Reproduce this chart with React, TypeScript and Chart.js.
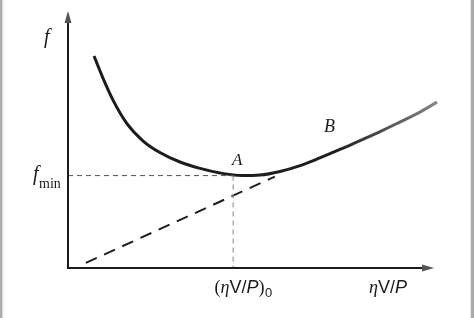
import React, { useEffect, useRef } from "react";
import { Chart, registerables } from "chart.js";

Chart.register(...registerables);

// Curve f(ηV/P) (arbitrary units, 0..10 on both axes)
const CURVE_X = [0.70, 0.94, 1.21, 1.59, 2.02, 2.47, 3.01, 3.55, 4.09, 4.68, 5.16, 5.70, 6.24, 6.77, 7.31, 7.85, 8.39, 8.92, 9.41, 9.92];
const CURVE_F = [8.28, 7.42, 6.56, 5.63, 4.96, 4.51, 4.14, 3.89, 3.71, 3.61, 3.63, 3.77, 4.00, 4.30, 4.63, 4.98, 5.33, 5.70, 6.05, 6.48];

// Dashed tangent line from near the origin
const TANGENT_X = [0.48, 5.56];
const TANGENT_F = [0.20, 3.57];

// f_min level and the optimum (ηV/P)_0
const F_MIN = 3.61;
const X_OPT = 4.44;

// Axis ranges
const X_MAX = 10;
const F_MAX = 10;
const X_ARROW_END = 9.84;
const F_ARROW_END = 10.04;

// Text
const Y_LABEL = "f";
const FMIN_MAIN = "f";
const FMIN_SUB = "min";
const POINT_A = "A";
const POINT_B = "B";
const X_LABEL = [
  { t: "η", f: "serif-it" },
  { t: "V", f: "sans" },
  { t: "/", f: "sans" },
  { t: "P", f: "sans-it" },
];
const X_OPT_SUB = "0";

const SERIF = '"Liberation Serif", "DejaVu Serif", serif';
const SANS = '"Liberation Sans", Arial, sans-serif';

function fontFor(kind: string, size: number) {
  if (kind === "serif-it") return `italic ${size}px ${SERIF}`;
  if (kind === "sans-it") return `italic ${size}px ${SANS}`;
  if (kind === "sans") return `${size}px ${SANS}`;
  return `${size}px ${SERIF}`;
}

function drawMixed(ctx: CanvasRenderingContext2D, parts: { t: string; f: string }[], x: number, y: number, size: number) {
  let cx = x;
  for (const p of parts) {
    ctx.font = fontFor(p.f, size);
    ctx.fillText(p.t, cx, y);
    cx += ctx.measureText(p.t).width;
  }
  return cx;
}

function measureMixed(ctx: CanvasRenderingContext2D, parts: { t: string; f: string }[], size: number) {
  let w = 0;
  for (const p of parts) {
    ctx.font = fontFor(p.f, size);
    w += ctx.measureText(p.t).width;
  }
  return w;
}

const decorPlugin = {
  id: "decor",
  beforeDraw(chart: any) {
    const ctx: CanvasRenderingContext2D = chart.ctx;
    ctx.save();
    ctx.fillStyle = "#ffffff";
    ctx.fillRect(0, 0, chart.width, chart.height);
    ctx.fillStyle = "#ababab";
    ctx.fillRect(0, 0, 2.5, chart.height);
    ctx.fillRect(chart.width - 3, 0, 3, chart.height);
    ctx.fillStyle = "#e6e6e6";
    ctx.fillRect(2.5, 0, 1, chart.height);
    ctx.fillRect(chart.width - 4, 0, 1, chart.height);
    ctx.restore();
  },
  afterDatasetsDraw(chart: any) {
    const ctx: CanvasRenderingContext2D = chart.ctx;
    const xs = chart.scales.x;
    const ys = chart.scales.y;
    const x0 = xs.getPixelForValue(0);
    const y0 = ys.getPixelForValue(0);
    const xEnd = xs.getPixelForValue(X_ARROW_END);
    const yEnd = ys.getPixelForValue(F_ARROW_END);
    ctx.save();
    // axes
    ctx.strokeStyle = "#1c1c1c";
    ctx.lineWidth = 2;
    ctx.beginPath();
    ctx.moveTo(x0, y0);
    ctx.lineTo(x0, yEnd + 8);
    ctx.moveTo(x0 - 1, y0);
    ctx.lineTo(xEnd - 8, y0);
    ctx.stroke();
    // arrowheads
    ctx.fillStyle = "#555";
    ctx.beginPath();
    ctx.moveTo(x0, yEnd);
    ctx.lineTo(x0 - 3.5, yEnd + 12);
    ctx.lineTo(x0 + 3.5, yEnd + 12);
    ctx.closePath();
    ctx.fill();
    ctx.beginPath();
    ctx.moveTo(xEnd, y0);
    ctx.lineTo(xEnd - 12, y0 - 3.5);
    ctx.lineTo(xEnd - 12, y0 + 3.5);
    ctx.closePath();
    ctx.fill();

    // texts
    ctx.fillStyle = "#1a1a1a";
    ctx.textBaseline = "alphabetic";
    ctx.textAlign = "left";
    // f on y axis
    ctx.font = `italic 20px ${SERIF}`;
    ctx.fillText(Y_LABEL, x0 - 24, yEnd + 32);
    // f_min
    const yMin = ys.getPixelForValue(F_MIN);
    ctx.font = `italic 20px ${SERIF}`;
    ctx.fillText(FMIN_MAIN, x0 - 35, yMin + 4);
    ctx.font = `14px ${SERIF}`;
    ctx.fillText(FMIN_SUB, x0 - 29, yMin + 12);
    // A and B
    ctx.textAlign = "center";
    ctx.font = `italic 17px ${SERIF}`;
    ctx.fillText(POINT_A, xs.getPixelForValue(X_OPT) + 4, yMin - 11);
    ctx.font = `italic 18px ${SERIF}`;
    ctx.fillText(POINT_B, xs.getPixelForValue(7.03), ys.getPixelForValue(5.3));
    ctx.textAlign = "left";
    // (ηV/P)_0
    const size = 18;
    const base = y0 + 25;
    const inner = measureMixed(ctx, X_LABEL, size);
    ctx.font = `${size}px ${SERIF}`;
    const wParen = ctx.measureText("(").width;
    ctx.font = `13px ${SANS}`;
    const wSub = ctx.measureText(X_OPT_SUB).width;
    const total = inner + 2 * wParen + wSub;
    let cx = xs.getPixelForValue(X_OPT) + 10 - total / 2;
    ctx.font = `${size}px ${SERIF}`;
    ctx.fillText("(", cx, base);
    cx += wParen;
    cx = drawMixed(ctx, X_LABEL, cx, base, size);
    ctx.font = `${size}px ${SERIF}`;
    ctx.fillText(")", cx, base);
    cx += wParen;
    ctx.font = `13px ${SANS}`;
    ctx.fillText(X_OPT_SUB, cx + 0.5, base + 4);
    // ηV/P at axis end
    const w2 = measureMixed(ctx, X_LABEL, size);
    drawMixed(ctx, X_LABEL, xs.getPixelForValue(8.6) - w2 / 2, base, size);
    ctx.restore();
  },
};

export default function App() {
  const ref = useRef<HTMLCanvasElement | null>(null);
  useEffect(() => {
    if (!ref.current) return;
    const curve = CURVE_X.map((x, i) => ({ x, y: CURVE_F[i] }));
    const tangent = TANGENT_X.map((x, i) => ({ x, y: TANGENT_F[i] }));
    const chart = new Chart(ref.current, {
      type: "line",
      data: {
        datasets: [
          {
            data: [{ x: 0, y: F_MIN }, { x: X_OPT, y: F_MIN }],
            borderColor: "#555",
            borderWidth: 1,
            borderDash: [5, 4],
            pointRadius: 0,
            clip: false,
          } as any,
          {
            data: [{ x: X_OPT, y: F_MIN }, { x: X_OPT, y: 0 }],
            borderColor: "#9a9a9a",
            borderWidth: 1.2,
            borderDash: [5, 4],
            pointRadius: 0,
            clip: false,
          } as any,
          {
            data: tangent,
            borderColor: "#1e1e1e",
            borderWidth: 2,
            borderDash: [12, 8],
            pointRadius: 0,
            clip: false,
          } as any,
          {
            data: curve,
            borderColor: (c: any) => {
              const area = c.chart.chartArea;
              if (!area) return "#1a1a1a";
              const g = c.chart.ctx.createLinearGradient(area.left, 0, area.right, 0);
              g.addColorStop(0, "#1a1a1a");
              g.addColorStop(0.72, "#1f1f1f");
              g.addColorStop(1, "#8a8a8a");
              return g;
            },
            borderWidth: 3,
            pointRadius: 0,
            cubicInterpolationMode: "monotone",
            clip: false,
          } as any,
        ],
      },
      options: {
        animation: false,
        responsive: false,
        maintainAspectRatio: false,
        layout: { padding: { left: 68, top: 12, right: 34, bottom: 50 } },
        plugins: { legend: { display: false }, tooltip: { enabled: false } },
        scales: {
          x: { type: "linear", min: 0, max: X_MAX, display: false },
          y: { type: "linear", min: 0, max: F_MAX, display: false },
        },
      },
      plugins: [decorPlugin],
    });
    return () => chart.destroy();
  }, []);
  return (
    <div style={{ position: "fixed", left: 0, top: 0, width: 474, height: 318 }}>
      <canvas ref={ref} width={474} height={318} style={{ width: 474, height: 318, display: "block" }} />
    </div>
  );
}
